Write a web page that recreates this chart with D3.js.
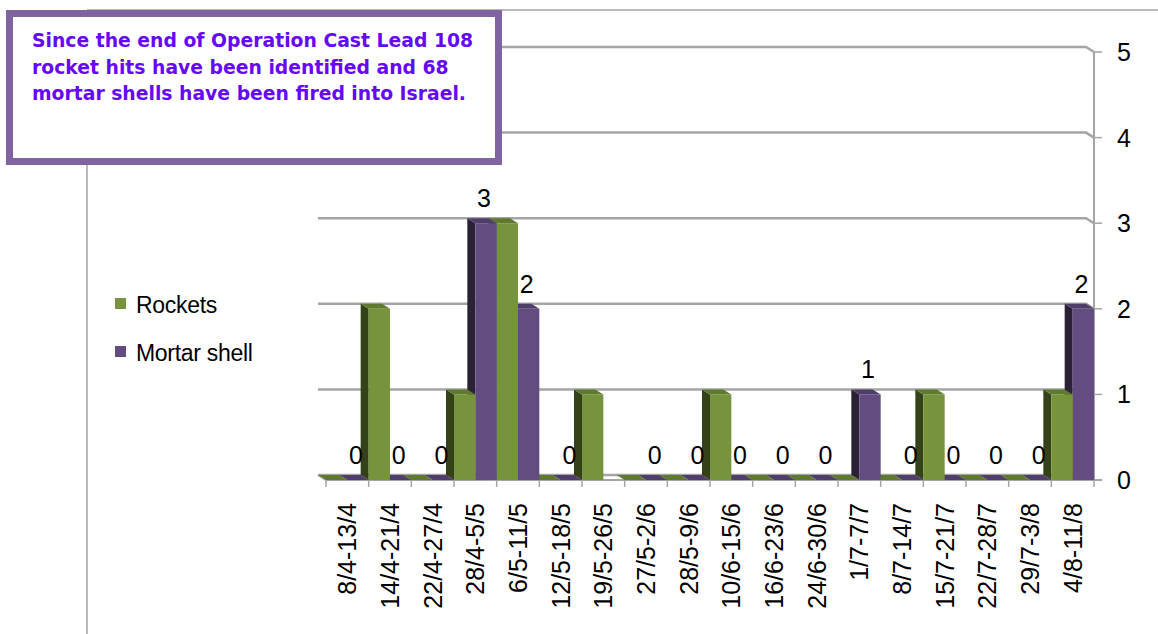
<!DOCTYPE html>
<html>
<head>
<meta charset="utf-8">
<script src="https://cdn.jsdelivr.net/npm/d3@7"></script>
<style>
    body { margin: 0; background: #fff; }
    svg { display: block; }
</style>
</head>
<body>
<svg id="chart" width="1158" height="634"></svg>
<script>
// Weekly counts (null = no value for that week)
const categories = ["8/4-13/4", "14/4-21/4", "22/4-27/4", "28/4-5/5", "6/5-11/5", "12/5-18/5",
    "19/5-26/5", "27/5-2/6", "28/5-9/6", "10/6-15/6", "16/6-23/6", "24/6-30/6",
    "1/7-7/7", "8/7-14/7", "15/7-21/7", "22/7-28/7", "29/7-3/8", "4/8-11/8"];
const rockets = [0, 2, 0, 1, 3, 0, 1, 0, 0, 1, 0, 0, 0, 0, 1, 0, 0, 1];
const mortars = [0, 0, 0, 3, 2, 0, null, 0, 0, 0, 0, 0, 1, 0, 0, 0, 0, 2];
const seriesNames = ["Rockets", "Mortar shell"];
const yTicks = [0, 1, 2, 3, 4, 5];
const note = ["Since the end of Operation Cast Lead 108",
    "rocket hits have been identified and 68",
    "mortar shells have been fired into Israel."];

const svg = d3.select("#chart");

const colors = [
    {front: "#77933c", side: "#34421a", top: "#5f7a2e"},
    {front: "#624c80", side: "#2a2137", top: "#4f3e6a"}
];
const grid = "#a5a5a5";
const font = "Liberation Sans, Arial, sans-serif";

// depth of the 3d effect (back plane goes up-left)
const dx = -8, dy = -5;

const x = d3.scaleBand()
    .domain(categories)
    .range([326, 1094])
    .padding(0);
const inner = d3.scaleBand()
    .domain([0, 1])
    .range([0, x.bandwidth()]);
const y = d3.scaleLinear()
    .domain([0, 5])
    .range([480, 52]);

// outer border lines
svg.append("line")
    .attr("x1", 87).attr("x2", 1158).attr("y1", 10).attr("y2", 10)
    .attr("stroke", grid).attr("stroke-width", 1.5);
svg.append("line")
    .attr("x1", 87).attr("x2", 87).attr("y1", 10).attr("y2", 634)
    .attr("stroke", grid).attr("stroke-width", 1.5);

// back wall gridlines with the small right wall bend
svg.append("g")
    .selectAll("path")
    .data(yTicks)
    .join("path")
    .attr("d", d => `M${x.range()[0] + dx},${y(d) + dy}H${x.range()[1] + dx}L${x.range()[1]},${y(d)}`)
    .attr("fill", "none")
    .attr("stroke", grid)
    .attr("stroke-width", 2.5);

// floor front edge and left edge
const x0 = x.range()[0], x1 = x.range()[1];
svg.append("path")
    .attr("d", `M${x0 + dx},${y(0) + dy}L${x0},${y(0)}H${x1 + 8}`)
    .attr("fill", "none")
    .attr("stroke", grid)
    .attr("stroke-width", 2);

// x ticks at band edges
svg.append("g")
    .selectAll("line")
    .data(categories.map(c => x(c)).concat([x1]))
    .join("line")
    .attr("x1", d => d).attr("x2", d => d)
    .attr("y1", y(0)).attr("y2", y(0) + 7)
    .attr("stroke", grid)
    .attr("stroke-width", 1.5);

// right value axis
svg.append("line")
    .attr("x1", x1).attr("x2", x1)
    .attr("y1", y(5)).attr("y2", y(0))
    .attr("stroke", grid).attr("stroke-width", 2);
svg.append("g")
    .selectAll("line")
    .data(yTicks)
    .join("line")
    .attr("x1", x1).attr("x2", x1 + 8)
    .attr("y1", d => y(d)).attr("y2", d => y(d))
    .attr("stroke", grid).attr("stroke-width", 1.5);
svg.append("g")
    .selectAll("text")
    .data(yTicks)
    .join("text")
    .attr("x", 1117)
    .attr("y", d => y(d))
    .attr("dy", "0.36em")
    .attr("font-family", font)
    .attr("font-size", 25)
    .attr("fill", "#000")
    .text(d => d);

// bars, drawn right to left so the left neighbour hides the side face
const bars = [];
categories.forEach((c, i) => {
    [rockets[i], mortars[i]].forEach((v, s) => {
        if (v === null) return;
        bars.push({cat: c, s: s, v: v, x: x(c) + inner(s), w: inner.bandwidth()});
    });
});
bars.sort((a, b) => b.x - a.x);

const barG = svg.append("g");
bars.forEach(b => {
    const g = barG.append("g");
    const yt = y(b.v), yb = y(0);
    const col = colors[b.s];
    // left side
    g.append("path")
        .attr("d", `M${b.x},${yt}L${b.x + dx},${yt + dy}V${yb + dy}L${b.x},${yb}Z`)
        .attr("fill", col.side);
    // top
    g.append("path")
        .attr("d", `M${b.x},${yt}H${b.x + b.w}L${b.x + b.w + dx},${yt + dy}H${b.x + dx}Z`)
        .attr("fill", col.top);
    // front
    if (b.v > 0) {
        g.append("rect")
            .attr("x", b.x).attr("y", yt)
            .attr("width", b.w).attr("height", yb - yt)
            .attr("fill", col.front);
    }
});

// data labels on the mortar series
svg.append("g")
    .selectAll("text")
    .data(bars.filter(b => b.s === 1))
    .join("text")
    .attr("x", d => d.x + d.w / 2 - 2)
    .attr("y", d => y(d.v) - 16)
    .attr("text-anchor", "middle")
    .attr("font-family", font)
    .attr("font-size", 25)
    .attr("fill", "#000")
    .text(d => d.v);

// category labels, rotated
svg.append("g")
    .selectAll("text")
    .data(categories)
    .join("text")
    .attr("transform", d => `translate(${x(d) + x.bandwidth() / 2 + 9},503) rotate(-90)`)
    .attr("text-anchor", "end")
    .attr("font-family", font)
    .attr("font-size", 25)
    .attr("fill", "#000")
    .text(d => d);

// legend
const legend = svg.append("g")
    .selectAll("g")
    .data(seriesNames)
    .join("g")
    .attr("transform", (d, i) => `translate(115,${298 + i * 48})`);
legend.append("rect")
    .attr("width", 11).attr("height", 11)
    .attr("fill", (d, i) => colors[i].front);
legend.append("text")
    .attr("x", 21).attr("y", 15)
    .attr("font-family", font)
    .attr("font-size", 23)
    .attr("letter-spacing", -0.3)
    .attr("fill", "#000")
    .text(d => d);

// note box
svg.append("rect")
    .attr("x", 9.5).attr("y", 13.5)
    .attr("width", 489).attr("height", 148)
    .attr("fill", "#fff")
    .attr("stroke", "#8064a2")
    .attr("stroke-width", 7);
svg.append("g")
    .selectAll("text")
    .data(note)
    .join("text")
    .attr("x", 32)
    .attr("y", (d, i) => 47 + i * 26.5)
    .attr("font-family", "DejaVu Sans, Verdana, sans-serif")
    .attr("font-weight", "bold")
    .attr("font-size", 18.8)
    .attr("fill", "#6608f8")
    .text(d => d);
</script>
</body>
</html>
